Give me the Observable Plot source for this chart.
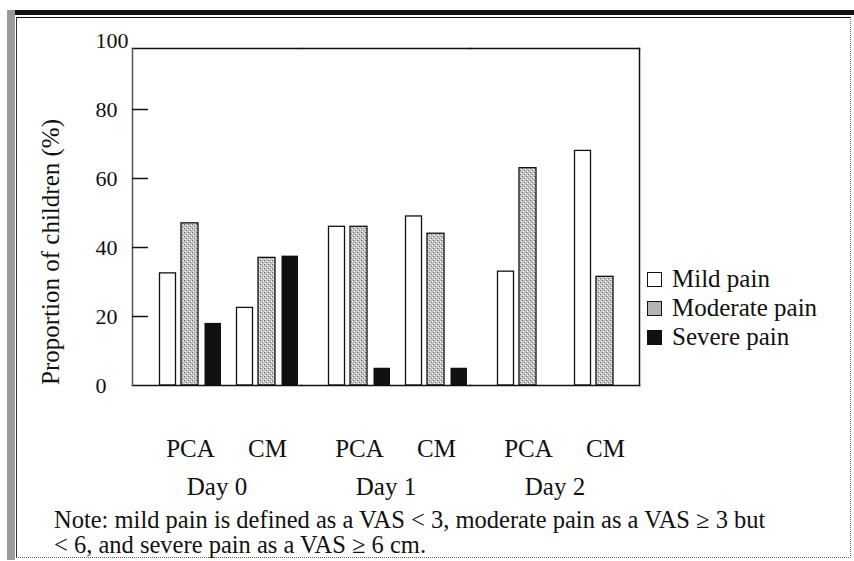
<!DOCTYPE html>
<html><head><meta charset="utf-8">
<script src="https://cdn.jsdelivr.net/npm/d3@7"></script>
<script src="https://cdn.jsdelivr.net/npm/@observablehq/plot@0.6"></script>
<style>
html,body{margin:0;padding:0;background:#fff;}
body{width:854px;height:561px;overflow:hidden;position:relative;font-family:"Liberation Serif","Times New Roman",serif;color:#111;}
.abs{position:absolute;}
#topband{left:7px;top:10px;width:847px;height:5px;background:#111;}
#leftband{left:7px;top:10px;width:8px;height:550px;background:#9a9a9a;}
#inner{left:16px;top:17px;width:835px;height:541px;border-top:1.5px solid #111;border-left:1.5px solid #333;border-right:1px dotted #777;border-bottom:1.5px dotted #666;box-sizing:border-box;}
#chart{left:0;top:0;}
.leg{position:absolute;left:647px;font-size:25px;line-height:25px;white-space:nowrap;}
.sw{display:inline-block;width:13px;height:13px;border:1.3px solid #111;vertical-align:middle;margin-right:10px;position:relative;top:-2px;}
#note{left:54px;top:508px;font-size:24.5px;line-height:24.5px;white-space:nowrap;}
</style></head><body>
<div class="abs" id="topband"></div>
<div class="abs" id="leftband"></div>
<div class="abs" id="inner"></div>
<div class="abs" id="chart"></div>
<div class="leg" style="top:266px"><span class="sw" style="background:#fff"></span>Mild pain</div>
<div class="leg" style="top:295px"><span class="sw" style="background:#b3b3b3"></span>Moderate pain</div>
<div class="leg" style="top:324px"><span class="sw" style="background:#111"></span>Severe pain</div>
<div class="abs" id="note">Note: mild pain is defined as a VAS &lt; 3, moderate pain as a VAS ≥ 3 but<br>&lt; 6, and severe pain as a VAS ≥ 6 cm.</div>
<script>
// Data (order of groups: Day 0 PCA, Day 0 CM, Day 1 PCA, Day 1 CM, Day 2 PCA, Day 2 CM)
const days = ["Day 0", "Day 1", "Day 2"];
const treatments = ["PCA", "CM"];
const severities = ["Mild pain", "Moderate pain", "Severe pain"];
const mildPain = [32.5, 22.5, 46, 49, 33, 68];
const moderatePain = [47, 37, 46, 44, 63, 31.5];
const severePain = [18, 37.5, 5, 5, 0, 0];
const yTicks = [0, 20, 40, 60, 80, 100];
const yTickMarks = [20, 40, 60, 80];

const seriesValues = {"Mild pain": mildPain, "Moderate pain": moderatePain, "Severe pain": severePain};
const rows = [];
days.forEach((day, i) => treatments.forEach((treatment, j) => {
  severities.forEach(severity => rows.push({day, treatment, severity, value: seriesValues[severity][i * 2 + j]}));
}));
const of = s => rows.filter(d => d.severity === s);

const plot = Plot.plot({
  width: 660,
  height: 505,
  marginLeft: 132,
  marginRight: 21,
  marginTop: 48,
  marginBottom: 120,
  style: {fontFamily: "'Liberation Serif', 'Times New Roman', serif", fontSize: "25px", color: "#111", background: "transparent", overflow: "visible"},
  fx: {domain: days, padding: 0, label: null, axis: null},
  x: {domain: treatments, paddingInner: 0.189, paddingOuter: 0.182, align: 0.9, label: null, axis: null},
  y: {domain: [0, 100], range: [385, 40], label: null, axis: null},
  marks: [
    Plot.barY(of("Mild pain"), {fx: "day", x: "treatment", y: "value", fill: "white", stroke: "#111", strokeWidth: 1.3, insetLeft: 0.5, insetRight: 45.5}),
    Plot.barY(of("Moderate pain"), {fx: "day", x: "treatment", y: "value", fill: "url(#stipple)", stroke: "#111", strokeWidth: 1.3, insetLeft: 22, insetRight: 23}),
    Plot.barY(of("Severe pain"), {fx: "day", x: "treatment", y: "value", fill: "#111", insetLeft: 45.5, insetRight: 0}),
    Plot.frame({anchor: "top", stroke: "#111", strokeWidth: 1.5}),
    Plot.frame({anchor: "bottom", stroke: "#111", strokeWidth: 1.5}),
    Plot.frame({anchor: "left", facetAnchor: "left", stroke: "#555", strokeWidth: 1.5}),
    Plot.frame({anchor: "right", facetAnchor: "right", stroke: "#111", strokeWidth: 1.5}),
    Plot.axisY(yTicks, {anchor: "left", tickSize: 0, tickPadding: 0, textAnchor: "start", dx: -37, fontSize: 22}),
    Plot.axisY(yTickMarks, {anchor: "left", tickSize: 16, dx: 16, tickFormat: () => "", stroke: "#111", strokeWidth: 1.5}),
    Plot.axisX({tickSize: 0, tickPadding: 54, fontSize: 25, label: null}),
    Plot.axisFx({anchor: "bottom", tickSize: 0, tickPadding: 92, fontSize: 25, label: null}),
    Plot.text(["Proportion of children (%)"], {frameAnchor: "left", facetAnchor: "left", textAnchor: "middle", dx: -82, dy: 35, rotate: -90, fontSize: 25, text: d => d})
  ]
});

// stipple pattern for moderate pain
const ns = "http://www.w3.org/2000/svg";
const defs = document.createElementNS(ns, "defs");
defs.innerHTML = `<pattern id="stipple" width="4" height="4" patternUnits="userSpaceOnUse">
<rect width="4" height="4" fill="#c4c4c4"/><rect x="0" y="0" width="1" height="1" fill="#666"/>
<rect x="2" y="2" width="1" height="1" fill="#777"/><rect x="3" y="1" width="1" height="1" fill="#fff"/><rect x="1" y="3" width="1" height="1" fill="#fff"/></pattern>`;
plot.insertBefore(defs, plot.firstChild);
document.getElementById("chart").appendChild(plot);
</script>
</body></html>
